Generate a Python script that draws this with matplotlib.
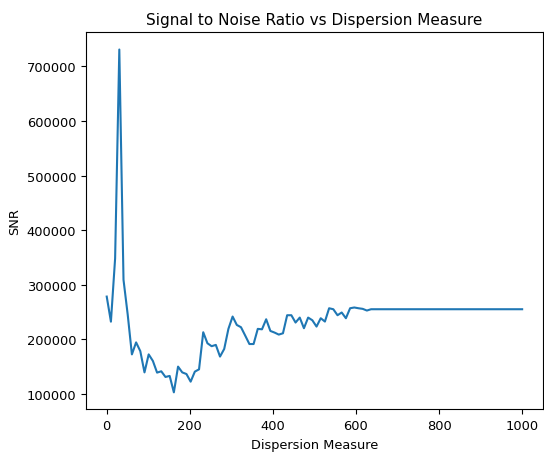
import numpy as np
import matplotlib
matplotlib.use("Agg")
import matplotlib.pyplot as plt

dm_start = 0
dm_stop = 1000
n_points = 100

snr_noisy = [
    278000, 232000, 348000, 731000, 308800, 245000, 172000, 194000, 178000, 139000,
    172000, 160000, 138600, 141000, 130600, 132500, 102400, 149600, 139000, 136000,
    122000, 140400, 144600, 212600, 192400, 187000, 189400, 168000, 182000, 218800,
    241400, 226000, 221800, 206500, 191000, 191000, 218800, 218000, 236400, 215000,
    212000, 208300, 210700, 243800, 243800, 230400, 239500, 220000, 239500, 234600,
    223000, 238300, 232200, 256600, 254800, 243800, 248800, 238300, 256600, 258000,
    256600, 255500, 252400, 254800,
]
snr_plateau = 254800

dm = np.linspace(dm_start, dm_stop, n_points)
snr = snr_noisy + [snr_plateau] * (n_points - len(snr_noisy))

fig = plt.figure(figsize=(5.44, 4.56), dpi=100)
ax = fig.add_axes([0.158, 0.0998, 0.840, 0.827])
ax.plot(dm, snr, color="#1f77b4", linewidth=1.5)
ax.set_title("Signal to Noise Ratio vs Dispersion Measure", fontsize=11)
ax.set_xlabel("Dispersion Measure", fontsize=9.3)
ax.set_ylabel("SNR", fontsize=9.3)
ax.tick_params(labelsize=9.4)
fig.savefig("out.png", dpi=100)
